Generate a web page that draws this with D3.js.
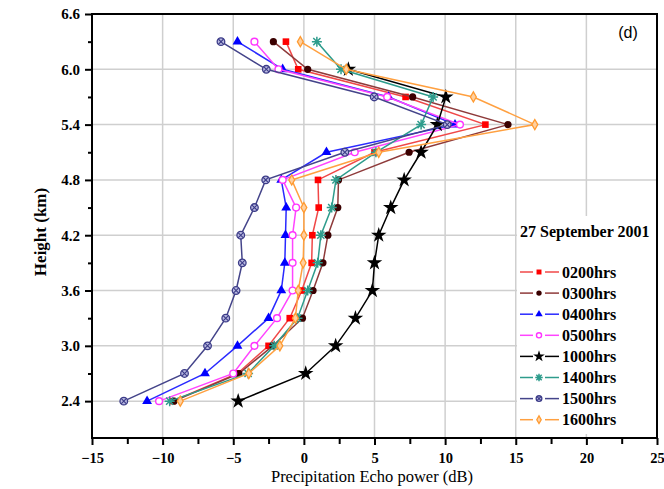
<!DOCTYPE html>
<html>
<head>
<meta charset="utf-8">
<script src="https://cdn.jsdelivr.net/npm/d3@7/dist/d3.min.js"></script>
<style>
  html, body { margin: 0; padding: 0; background: #fff; }
  svg { display: block; }
</style>
</head>
<body>
<svg id="chart" width="664" height="489"></svg>
<script>
// Heights of the sampled range gates (km)
const heights = [2.4, 2.7, 3.0, 3.3, 3.6, 3.9, 4.2, 4.5, 4.8, 5.1, 5.4, 5.7, 6.0, 6.3];

// Precipitation echo power (dB) at each height, one array per hour
const p0200 = [-9.3, -4.7, -2.5, -1.0, -0.15, 0.55, 0.6, 1.05, 1.0, 5.0, 12.85, 7.2, -0.4, -1.27];
const p0300 = [-9.2, -4.6, -2.2, -0.1, 0.65, 1.35, 1.7, 2.4, 2.45, 7.45, 14.45, 7.7, 0.27, -2.16];
const p0400 = [-11.1, -7.0, -4.7, -2.5, -1.6, -1.35, -1.3, -1.25, -1.6, 1.6, 10.7, 6.0, -1.5, -4.7];
const p0500 = [-10.25, -5.0, -3.5, -1.9, -0.8, -0.8, -0.8, -0.55, -1.5, 3.6, 11.05, 5.9, -1.8, -3.5];
const p1000 = [-4.65, 0.13, 2.25, 3.65, 4.85, 5.0, 5.3, 6.15, 7.1, 8.3, 9.45, 10.05, 3.15, null];
const p1400 = [-9.5, -3.95, -2.1, -0.45, 0.27, 0.98, 1.2, 1.97, 2.27, 5.1, 8.3, 9.15, 2.63, 0.92];
const p1500 = [-12.75, -8.45, -6.82, -5.53, -4.8, -4.36, -4.47, -3.5, -2.7, 2.9, 10.15, 4.98, -2.66, -5.87];
const p1600 = [-8.75, -3.9, -1.7, -0.6, -0.4, -0.05, 0.0, 0.0, -0.86, 5.3, 16.35, 12.0, 3.0, -0.25];

const seriesNames = ["0200hrs", "0300hrs", "0400hrs", "0500hrs", "1000hrs", "1400hrs", "1500hrs", "1600hrs"];
const seriesValues = [p0200, p0300, p0400, p0500, p1000, p1400, p1500, p1600];

const xTicks = [-15, -10, -5, 0, 5, 10, 15, 20, 25];
const yTicks = [2.4, 3.0, 3.6, 4.2, 4.8, 5.4, 6.0, 6.6];

const dateLabel = "27 September 2001";
const panelLabel = "(d)";
const xTitle = "Precipitation Echo power (dB)";
const yTitle = "Height (km)";

// Styling per series: line colour, marker kind, marker fill / stroke
const styles = [
  { line: "#f04848", kind: "square",   fill: "#ff0000", stroke: "#ff0000" },
  { line: "#8e3a3a", kind: "circle",   fill: "#3a0000", stroke: "#3a0000" },
  { line: "#2a2aff", kind: "triangle", fill: "#0000ff", stroke: "#0000ff" },
  { line: "#ff44ff", kind: "ocircle",  fill: "#ffffff", stroke: "#ff33ff" },
  { line: "#000000", kind: "star",     fill: "#000000", stroke: "#000000" },
  { line: "#2e9c8c", kind: "asterisk", fill: "none",    stroke: "#2e9c8c" },
  { line: "#44448a", kind: "xcircle",  fill: "#b8b8e0", stroke: "#3c3c88" },
  { line: "#ffa040", kind: "diamond",  fill: "#ffd0a0", stroke: "#ff9a30" }
];

const svg = d3.select("#chart");
const plotLeft = 92, plotRight = 657, plotTop = 14, plotBottom = 438;

const x = d3.scaleLinear().domain([-15, 25]).range([plotLeft, plotRight]);
const y = d3.scaleLinear().domain([2.0, 6.6]).range([plotBottom, plotTop]);

const serif = "'Liberation Serif', 'Times New Roman', serif";

// Grid lines
const grid = svg.append("g");
grid.selectAll("line.vx")
  .data(xTicks.filter(v => v > -15 && v < 25))
  .join("line")
  .attr("x1", d => x(d)).attr("x2", d => x(d))
  .attr("y1", plotTop).attr("y2", plotBottom)
  .attr("stroke", "#cfcfcf").attr("stroke-width", 1.5);
grid.selectAll("line.hy")
  .data(yTicks.filter(v => v < 6.6))
  .join("line")
  .attr("x1", plotLeft).attr("x2", plotRight)
  .attr("y1", d => y(d)).attr("y2", d => y(d))
  .attr("stroke", "#cfcfcf").attr("stroke-width", 1.5);

// Axes
const xAxis = d3.axisBottom(x).tickValues(xTicks).tickSize(7).tickPadding(8)
  .tickFormat(d3.format("d"));
const xMinor = d3.axisBottom(x).tickValues(d3.range(-12.5, 25, 5)).tickSize(6).tickFormat("");
const yAxis = d3.axisLeft(y).tickValues(yTicks).tickSize(7).tickPadding(5)
  .tickFormat(d3.format(".1f"));
const yMinor = d3.axisLeft(y).tickValues(d3.range(2.7, 6.6, 0.6)).tickSize(4).tickFormat("");

function styleAxis(g, size) {
  g.select(".domain").remove();
  g.selectAll("line").attr("stroke", "#000").attr("stroke-width", 2);
  g.selectAll("text").attr("fill", "#000").style("font-family", serif)
    .style("font-weight", "bold").style("font-size", size + "px");
}

svg.append("g").attr("transform", `translate(0,${plotBottom})`).call(xAxis).call(styleAxis, 14.5);
svg.append("g").attr("transform", `translate(0,${plotBottom})`).call(xMinor).call(styleAxis, 14.5);
svg.append("g").attr("transform", `translate(${plotLeft},0)`).call(yAxis).call(styleAxis, 15);
svg.append("g").attr("transform", `translate(${plotLeft},0)`).call(yMinor).call(styleAxis, 15);

// Frame
svg.append("rect")
  .attr("x", plotLeft).attr("y", plotTop)
  .attr("width", plotRight - plotLeft).attr("height", plotBottom - plotTop)
  .attr("fill", "none").attr("stroke", "#000").attr("stroke-width", 2);

// Marker drawing
function drawMarker(g, kind, st, s) {
  const k = s || 1;
  if (kind === "square") {
    g.append("rect").attr("x", -3.3 * k).attr("y", -3.3 * k)
      .attr("width", 6.6 * k).attr("height", 6.6 * k).attr("fill", st.fill);
  } else if (kind === "circle") {
    g.append("circle").attr("r", 3.6 * k).attr("fill", st.fill);
  } else if (kind === "triangle") {
    g.append("path").attr("d", d3.symbol(d3.symbolTriangle, 42 * k * k)()).attr("fill", st.fill);
  } else if (kind === "ocircle") {
    g.append("circle").attr("r", 3.4 * k).attr("fill", "#fff")
      .attr("stroke", st.stroke).attr("stroke-width", 1.4);
  } else if (kind === "star") {
    g.append("path").attr("d", d3.symbol(d3.symbolStar, 75 * k * k)()).attr("fill", st.fill);
  } else if (kind === "asterisk") {
    const r = 5 * k;
    const a = r * 0.72;
    g.append("path")
      .attr("d", `M${-r},0L${r},0M0,${-r}L0,${r}M${-a},${-a}L${a},${a}M${-a},${a}L${a},${-a}`)
      .attr("stroke", st.stroke).attr("stroke-width", 1.5).attr("fill", "none");
  } else if (kind === "xcircle") {
    const r = 3.8 * k;
    const a = r * 0.7;
    g.append("circle").attr("r", r).attr("fill", st.fill)
      .attr("stroke", st.stroke).attr("stroke-width", 1.3);
    g.append("path").attr("d", `M${-a},${-a}L${a},${a}M${-a},${a}L${a},${-a}`)
      .attr("stroke", st.stroke).attr("stroke-width", 1.1);
  } else if (kind === "diamond") {
    g.append("path").attr("d", d3.symbol(d3.symbolDiamond, 30 * k * k)())
      .attr("fill", st.fill).attr("stroke", st.stroke).attr("stroke-width", 1.3);
  }
}

// Profiles
const line = d3.line()
  .defined(d => d.v !== null)
  .x(d => x(d.v)).y(d => y(d.h));

seriesValues.forEach((vals, i) => {
  const st = styles[i];
  const pts = heights.map((h, j) => ({ h: h, v: vals[j] }));
  const g = svg.append("g");
  g.append("path").datum(pts)
    .attr("d", line)
    .attr("fill", "none").attr("stroke", st.line).attr("stroke-width", 1.5);
  g.selectAll("g.m").data(pts.filter(p => p.v !== null)).join("g")
    .attr("transform", d => `translate(${x(d.v)},${y(d.h)})`)
    .each(function () { drawMarker(d3.select(this), st.kind, st, 1); });
});

// Panel label
svg.append("text").attr("x", 628).attr("y", 38)
  .attr("text-anchor", "middle")
  .style("font-family", "'Liberation Sans', Arial, sans-serif")
  .style("font-size", "16px").text(panelLabel);

// Axis titles
svg.append("text").attr("x", 372).attr("y", 482)
  .attr("text-anchor", "middle")
  .style("font-family", serif).style("font-size", "16.5px")
  .text(xTitle);
svg.append("text")
  .attr("transform", "translate(46,232) rotate(-90)")
  .attr("text-anchor", "middle")
  .style("font-family", serif).style("font-weight", "bold").style("font-size", "17px")
  .text(yTitle);

// Legend
const legend = svg.append("g");
legend.append("rect").attr("x", 517).attr("y", 216).attr("width", 139).attr("height", 218)
  .attr("fill", "#fff");
legend.append("text").attr("x", 520).attr("y", 237)
  .style("font-family", serif).style("font-weight", "bold").style("font-size", "16px")
  .text(dateLabel);
seriesNames.forEach((name, i) => {
  const st = styles[i];
  const cy = 272 + i * 21.1;
  const g = legend.append("g");
  g.append("line").attr("x1", 520).attr("x2", 533).attr("y1", cy).attr("y2", cy)
    .attr("stroke", st.line).attr("stroke-width", 1.5);
  g.append("line").attr("x1", 545).attr("x2", 559).attr("y1", cy).attr("y2", cy)
    .attr("stroke", st.line).attr("stroke-width", 1.5);
  const m = g.append("g").attr("transform", `translate(539,${cy})`);
  drawMarker(m, st.kind, st, 0.75);
  g.append("text").attr("x", 562).attr("y", cy + 5.5)
    .style("font-family", serif).style("font-weight", "bold").style("font-size", "16px")
    .text(name);
});
</script>
</body>
</html>
